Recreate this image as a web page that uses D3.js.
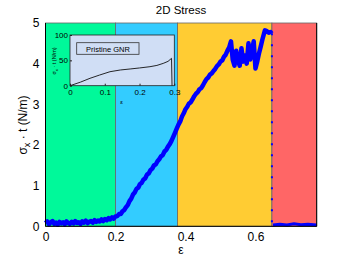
<!DOCTYPE html>
<head>
<meta charset="utf-8">
<script src="https://d3js.org/d3.v7.min.js"></script>
<style>
  body { margin: 0; background: #fff; }
  text { font-family: "Liberation Sans", Arial, sans-serif; }
</style>
</head>
<body>
<script>
// ---- data ----
const regionEdges = [0, 0.2, 0.377, 0.647, 0.775]
const regionColors = ["#00F99A", "#33CCFF", "#FFCC33", "#FF6666"]

// main stress-strain curve (before fracture)
const strain = [0, 0.005, 0.01, 0.015, 0.02, 0.025, 0.03, 0.035, 0.04, 0.045, 0.05, 0.055, 0.06, 0.065,
  0.07, 0.075, 0.08, 0.085, 0.09, 0.095, 0.1, 0.105, 0.11, 0.115, 0.12, 0.125, 0.13, 0.135, 0.14, 0.145,
  0.15, 0.155, 0.16, 0.165, 0.17, 0.175, 0.18, 0.185, 0.19, 0.195, 0.2, 0.205, 0.21, 0.215, 0.22, 0.225,
  0.23, 0.235, 0.24, 0.245, 0.25, 0.255, 0.26, 0.265, 0.27, 0.275, 0.28, 0.285, 0.29, 0.295, 0.3, 0.305,
  0.31, 0.315, 0.32, 0.325, 0.33, 0.335, 0.34, 0.345, 0.35, 0.355, 0.36, 0.365, 0.37, 0.375, 0.38, 0.385,
  0.39, 0.395, 0.4, 0.405, 0.41, 0.415, 0.42, 0.425, 0.43, 0.435, 0.44, 0.445, 0.45, 0.455, 0.46, 0.465,
  0.47, 0.475, 0.48, 0.485, 0.49, 0.495, 0.5, 0.505, 0.51, 0.515, 0.52, 0.525, 0.53,
  0.535, 0.54, 0.545, 0.55, 0.555, 0.56, 0.565, 0.57, 0.575, 0.58, 0.585, 0.59, 0.595, 0.6,
  0.605, 0.61, 0.615, 0.62, 0.627, 0.632, 0.638, 0.643, 0.646]
const stress = [0.08, 0.12, 0.05, 0.1, 0.13, 0.06, 0.09, 0.04, 0.11, 0.07, 0.1, 0.05, 0.12, 0.08,
  0.06, 0.11, 0.07, 0.13, 0.08, 0.1, 0.06, 0.12, 0.09, 0.14, 0.08, 0.11, 0.13, 0.09, 0.15, 0.11,
  0.14, 0.12, 0.17, 0.13, 0.18, 0.15, 0.2, 0.17, 0.22, 0.19, 0.24, 0.25, 0.3, 0.3, 0.37, 0.4,
  0.47, 0.52, 0.62, 0.68, 0.78, 0.83, 0.92, 0.95, 1.04, 1.07, 1.15, 1.18, 1.27, 1.3, 1.38, 1.42,
  1.5, 1.52, 1.6, 1.65, 1.72, 1.75, 1.84, 1.88, 1.96, 2.02, 2.1, 2.2, 2.3, 2.4, 2.5, 2.58,
  2.7, 2.78, 2.88, 2.94, 3.02, 3.05, 3.12, 3.2, 3.26, 3.3, 3.37, 3.4, 3.47, 3.55, 3.62, 3.66,
  3.73, 3.76, 3.82, 3.87, 3.94, 3.98, 4.05, 4.08, 4.17, 4.22, 4.32, 4.4, 4.55,
  4.1, 3.95, 4.32, 4.08, 3.95, 4.38, 4.05, 4.2, 4.0, 4.5, 4.1, 4.3, 4.55, 3.88,
  4.05, 4.25, 4.42, 4.6, 4.82, 4.8, 4.76, 4.78, 4.74]
// fracture drop and residual
const dropStrain = [0.647, 0.647]
const dropStress = [4.75, 0]
const tailStrain = [0.65, 0.67, 0.69, 0.71, 0.73, 0.75, 0.775]
const tailStress = [0.03, 0.05, 0.03, 0.06, 0.04, 0.05, 0.03]

// inset: pristine GNR
const insetStrain = [0, 0.03, 0.0575, 0.085, 0.115, 0.145, 0.173, 0.2, 0.23, 0.25, 0.268, 0.282, 0.292, 0.2935]
const insetStress = [0, 7, 14.6, 21, 27.6, 31, 33, 35, 37.5, 40, 44, 48, 54, 0]

const xTicks = [0, 0.2, 0.4, 0.6]
const yTicks = [0, 1, 2, 3, 4, 5]
const insetXTicks = [0, 0.1, 0.2, 0.3]
const insetYTicks = [0, 50, 100]

// ---- setup ----
const width = 350, height = 259
const svg = d3.select("body").append("svg").attr("width", width).attr("height", height)

const x = d3.scaleLinear().domain([0, 0.775]).range([45.5, 316.7])
const y = d3.scaleLinear().domain([0, 5]).range([226.3, 23])

// regions
svg.append("g").selectAll("rect")
  .data(regionColors)
  .enter().append("rect")
  .attr("x", (d, i) => x(regionEdges[i]))
  .attr("y", y(5))
  .attr("width", (d, i) => x(regionEdges[i + 1]) - x(regionEdges[i]))
  .attr("height", y(0) - y(5))
  .attr("fill", d => d)
  .attr("stroke", "#666")
  .attr("stroke-width", 0.8)

// curve
const line = d3.line().x(d => x(d[0])).y(d => y(d[1]))
svg.append("path")
  .datum(strain.map((s, i) => [s, stress[i]]))
  .attr("d", line)
  .attr("fill", "none").attr("stroke", "#0000FF")
  .attr("stroke-width", 4.5).attr("stroke-linejoin", "round")
svg.append("path")
  .datum(dropStrain.map((s, i) => [s, dropStress[i]]))
  .attr("d", line)
  .attr("fill", "none").attr("stroke", "#0000FF")
  .attr("stroke-width", 2).attr("stroke-dasharray", "2,9")
svg.append("path")
  .datum(tailStrain.map((s, i) => [s, tailStress[i]]))
  .attr("d", line)
  .attr("fill", "none").attr("stroke", "#0000FF")
  .attr("stroke-width", 3)

// axes
svg.append("g").attr("transform", `translate(0,${y(0)})`)
  .call(d3.axisBottom(x).tickValues(xTicks).tickSize(0).tickPadding(6).tickFormat(d3.format("~g")))
svg.append("g").attr("transform", `translate(${x(0)},0)`)
  .call(d3.axisLeft(y).tickValues(yTicks).tickSize(0).tickPadding(6).tickFormat(d3.format("~g")))
svg.selectAll(".domain").remove()
svg.selectAll(".tick text").attr("font-size", 12).attr("fill", "#000")
  .attr("font-family", "Liberation Sans, Arial, sans-serif")

svg.append("line").attr("x1", x(0)).attr("x2", x(0)).attr("y1", y(0)).attr("y2", y(5)).attr("stroke", "#000")
svg.append("line").attr("x1", x(0)).attr("x2", x(0.775)).attr("y1", y(0)).attr("y2", y(0)).attr("stroke", "#000")
svg.append("line").attr("x1", x(0.775)).attr("x2", x(0.775)).attr("y1", y(0)).attr("y2", y(5)).attr("stroke", "#000")

// labels
svg.append("text").attr("x", 181).attr("y", 14).attr("text-anchor", "middle")
  .attr("font-size", 11.5).text("2D Stress")
svg.append("text").attr("x", 181).attr("y", 254).attr("text-anchor", "middle")
  .attr("font-size", 12).text("ε")
const yl = svg.append("text").attr("transform", "translate(27,125) rotate(-90)")
  .attr("text-anchor", "middle").attr("font-size", 12)
yl.append("tspan").text("σ")
yl.append("tspan").attr("font-size", 9).attr("dy", 3).text("x")
yl.append("tspan").attr("dy", -3).text(" · t (N/m)")

// ---- inset ----
const ix = d3.scaleLinear().domain([0, 0.3]).range([70, 174.3])
const iy = d3.scaleLinear().domain([0, 100]).range([85.7, 35])
const inset = svg.append("g")
inset.append("rect")
  .attr("x", ix(0)).attr("y", iy(100))
  .attr("width", ix(0.3) - ix(0)).attr("height", iy(0) - iy(100))
  .attr("fill", "#D0DEF5").attr("stroke", "#222").attr("stroke-width", 0.8)

const iline = d3.line().x(d => ix(d[0])).y(d => iy(d[1]))
inset.append("path")
  .datum(insetStrain.map((s, i) => [s, insetStress[i]]))
  .attr("d", iline)
  .attr("fill", "none").attr("stroke", "#111").attr("stroke-width", 0.9)

inset.append("g").attr("transform", `translate(0,${iy(0)})`)
  .call(d3.axisBottom(ix).tickValues(insetXTicks).tickSizeInner(-2).tickSizeOuter(0).tickPadding(4).tickFormat(d3.format("~g")))
inset.append("g").attr("transform", `translate(${ix(0)},0)`)
  .call(d3.axisLeft(iy).tickValues(insetYTicks).tickSizeInner(-2).tickSizeOuter(0).tickPadding(2))
inset.selectAll(".domain").remove()
inset.selectAll(".tick line").attr("stroke", "#222")
inset.selectAll(".tick text").attr("font-size", 8).attr("fill", "#000")
  .attr("font-family", "Liberation Sans, Arial, sans-serif")

// legend box
inset.append("rect").attr("x", 76.7).attr("y", 42.7).attr("width", 62.3).attr("height", 11.6)
  .attr("fill", "#D0DEF5").attr("stroke", "#333").attr("stroke-width", 0.8)
inset.append("text").attr("x", 108).attr("y", 51.5).attr("text-anchor", "middle")
  .attr("font-size", 7.5).text("Pristine GNR")

inset.append("text").attr("x", 121.7).attr("y", 104).attr("text-anchor", "middle")
  .attr("font-size", 6).text("ε")
const iyl = inset.append("text").attr("transform", "translate(56,61) rotate(-90)")
  .attr("text-anchor", "middle").attr("font-size", 5.5)
iyl.append("tspan").text("σ")
iyl.append("tspan").attr("font-size", 4).attr("dy", 1.5).text("x")
iyl.append("tspan").attr("dy", -1.5).text(" · t (N/m)")
</script>
</body>
